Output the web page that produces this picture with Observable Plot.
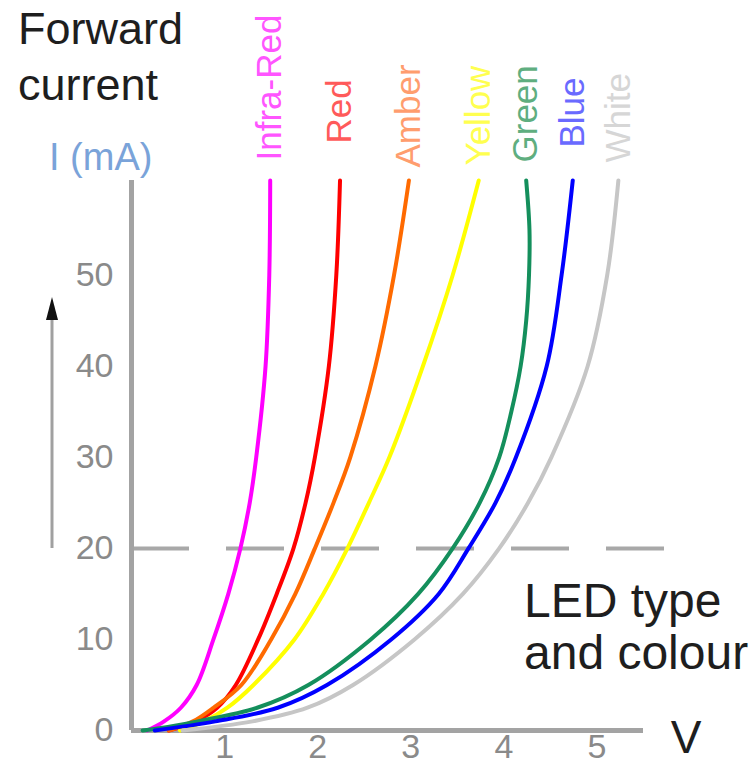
<!DOCTYPE html>
<html><head><meta charset="utf-8">
<script src="https://cdn.jsdelivr.net/npm/d3@7"></script>
<script src="https://cdn.jsdelivr.net/npm/@observablehq/plot@0.6"></script>
<style>
html,body{margin:0;padding:0;background:#fff;}
#chart{position:relative;width:749px;height:765px;}
</style></head><body><div id="chart"></div>
<script>
// LED types and colours
const seriesNames = ["Infra-Red", "Red", "Amber", "Yellow", "Green", "Blue", "White"];
const lineColors  = ["#ff00ff", "#ff0000", "#ff6a00", "#ffff00", "#148f5c", "#0000ff", "#c6c6c6"];
const labelColors = ["#ff55ff", "#ff5a5a", "#ff9d6e", "#ffff50", "#5fae80", "#6a6aff", "#d6d6d6"];

// [forward voltage V, forward current mA]
const infraRed = [[0.17,0],[0.35,1],[0.53,2.5],[0.70,5],[0.88,10],[1.04,15],[1.17,20],[1.27,25],[1.34,30],[1.44,40],[1.48,50],[1.49,60.4]];
const red      = [[0.40,0],[0.69,1],[0.92,2.5],[1.12,5],[1.36,10],[1.56,15],[1.74,20],[1.87,25],[1.97,30],[2.12,40],[2.20,50],[2.24,60.4]];
const amber    = [[0.40,0],[0.66,1],[0.88,2.5],[1.18,5],[1.50,10],[1.76,15],[1.97,20],[2.17,25],[2.35,30],[2.62,40],[2.82,50],[2.98,60.4]];
const yellow   = [[0.52,0],[0.78,1],[1.03,2.5],[1.31,5],[1.75,10],[2.06,15],[2.32,20],[2.55,25],[2.77,30],[3.13,40],[3.45,50],[3.73,60.4]];
const green    = [[0.12,0],[0.45,0.5],[0.71,1],[1.35,2.5],[1.90,5],[2.57,10],[3.08,15],[3.45,20],[3.74,25],[3.95,30],[4.08,35],[4.18,40],[4.24,45],[4.27,50],[4.275,55],[4.24,60.4]];
const blue     = [[0.25,0],[0.90,1],[1.57,2.5],[2.10,5],[2.79,10],[3.30,15],[3.62,20],[3.91,25],[4.13,30],[4.46,40],[4.62,50],[4.74,60.4]];
const white    = [[0.55,0],[1.30,1],[1.89,2.5],[2.38,5],[3.04,10],[3.56,15],[3.95,20],[4.26,25],[4.51,30],[4.90,40],[5.11,50],[5.23,60.4]];

const curves = [infraRed, red, amber, yellow, green, blue, white];
const xTicks = [1, 2, 3, 4, 5];
const yTicks = [0, 10, 20, 30, 40, 50];
const refCurrent = 20;

// vertical gap (px) between each curve's top end and the start of its label
const labelGap = [20, 37, 13, 15, 18, 33, 18];

const lineMarks = curves.map((c, k) =>
  Plot.line(c.map(([v, i]) => ({v, i})), {x: "v", y: "i", stroke: lineColors[k], strokeWidth: 4, curve: "catmull-rom"})
);
const labelMarks = curves.map((c, k) =>
  Plot.text([{v: c[c.length - 1][0], i: c[c.length - 1][1], name: seriesNames[k]}],
    {x: "v", y: "i", text: "name", fill: labelColors[k], rotate: -90, textAnchor: "start", lineAnchor: "middle", dy: -labelGap[k], fontSize: 35})
);

const plot = Plot.plot({
  width: 749, height: 765,
  marginLeft: 131, marginRight: 106, marginTop: 180, marginBottom: 35,
  style: {fontFamily: "'Liberation Sans', Arial, sans-serif", fontSize: "34px", color: "#8a8a8a", background: "#fff", overflow: "visible"},
  x: {domain: [0, 5.5], ticks: xTicks, tickFormat: d => String(d), tickSize: 0, tickPadding: 3, label: null},
  y: {domain: [0, 60.4], ticks: yTicks, tickFormat: d => String(d), tickSize: 0, tickPadding: 18, label: null},
  marks: [
    Plot.ruleY([refCurrent], {x1: 0, x2: 5.76, stroke: "#a8a8a8", strokeWidth: 4, strokeDasharray: "58,37"}),
    Plot.ruleX([0], {stroke: "#a3a3a3", strokeWidth: 5}),
    Plot.ruleY([0], {stroke: "#a3a3a3", strokeWidth: 5}),
    ...lineMarks,
    ...labelMarks
  ]
});
document.getElementById("chart").appendChild(plot);

// annotations
const svg = d3.select(plot);
const font = "'Liberation Sans', Arial, sans-serif";
function addText(t, x, y, size, fill, anchor) {
  svg.append("text").attr("x", x).attr("y", y).attr("fill", fill)
    .attr("font-family", font).attr("font-size", size)
    .attr("text-anchor", anchor || "start").text(t);
}
addText("Forward", 18, 44, 45, "#1e1e1e");
addText("current", 18, 100, 45, "#1e1e1e");
addText("I (mA)", 49, 170, 38, "#7aa3d9");
addText("LED type", 524, 617, 48, "#1e1e1e");
addText("and colour", 524, 669, 48, "#1e1e1e");
addText("V", 686, 753, 46, "#1e1e1e", "middle");
svg.append("line").attr("x1", 52).attr("x2", 52).attr("y1", 548).attr("y2", 318)
  .attr("stroke", "#a0a0a0").attr("stroke-width", 3);
svg.append("polygon").attr("points", "52,297 46,320 58,320").attr("fill", "#111");
</script>
</body></html>
